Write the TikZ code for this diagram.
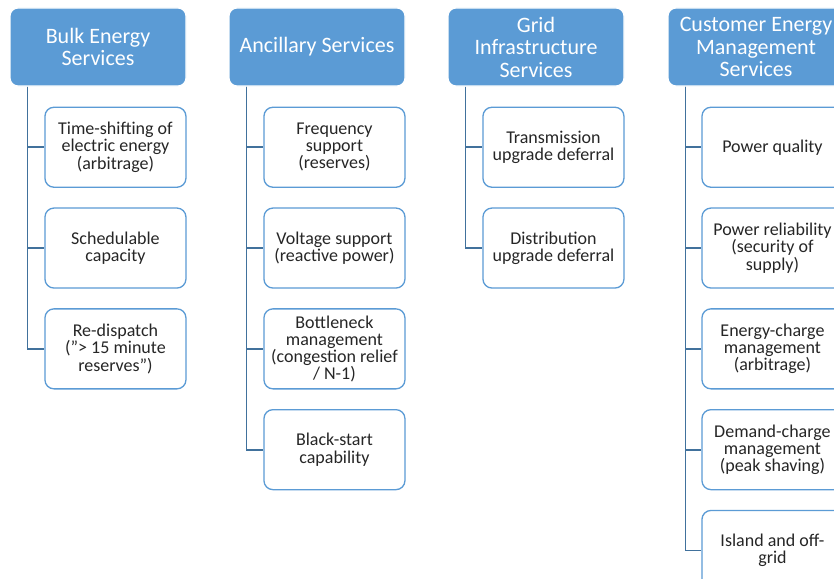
\documentclass[tikz,border=0pt]{standalone}
\usepackage{fontspec}
\setmainfont{Carlito}
\usepackage{xcolor}
\usepackage{tikz}
\usetikzlibrary{positioning}
\definecolor{hdrblue}{HTML}{5B9BD5}
\definecolor{linkblue}{HTML}{41719C}
\begin{document}
\begin{tikzpicture}[x=1pt,y=-1pt,
  header/.style={rectangle,rounded corners=8pt,fill=hdrblue,draw=white,line width=1.2pt,
    text=white,minimum width=176pt,minimum height=78pt,align=center,inner sep=2pt,
    font=\fontsize{22}{22.5}\selectfont},
  item/.style={rectangle,rounded corners=9pt,fill=white,draw=hdrblue,line width=1.3pt,
    text=black!85,minimum width=141pt,minimum height=80pt,align=center,inner sep=2pt,
    font=\fontsize{18}{17.2}\selectfont},
  link/.style={draw=linkblue,line width=1.8pt}]
\useasboundingbox (0,0) rectangle (834,578);
\clip (0,0) rectangle (834,578);
\fill[white] (0,0) rectangle (834,578);

% column headers
\node[header] (bulk) at (98,47) {Bulk Energy\\Services};
\node[header] (anc) at (317,47) {Ancillary Services};
\node[header] (grid) at (536,47) {Grid\\Infrastructure\\Services};
\node[header] (cust) at (756,47) {Customer Energy\\Management\\Services};

% bulk energy
\node[item,anchor=north east] (b1) at ([yshift=-20pt]bulk.south east) {Time-shifting of\\electric energy\\(arbitrage)};
\node[item,below=19.5pt of b1] (b2) {Schedulable\\capacity};
\node[item,below=19.5pt of b2] (b3) {Re-dispatch\\(''> 15 minute\\reserves'')};

% ancillary
\node[item,anchor=north east] (a1) at ([yshift=-20pt]anc.south east) {Frequency\\support\\(reserves)};
\node[item,below=19.5pt of a1] (a2) {Voltage support\\(reactive power)};
\node[item,below=19.5pt of a2] (a3) {Bottleneck\\management\\(congestion relief\\/ N-1)};
\node[item,below=19.5pt of a3] (a4) {Black-start\\capability};

% grid infrastructure
\node[item,anchor=north east] (g1) at ([yshift=-20pt]grid.south east) {Transmission\\upgrade deferral};
\node[item,below=19.5pt of g1] (g2) {Distribution\\upgrade deferral};

% customer energy management
\node[item,anchor=north east] (c1) at ([xshift=-1pt,yshift=-20pt]cust.south east) {Power quality};
\node[item,below=19.5pt of c1] (c2) {Power reliability\\(security of\\supply)};
\node[item,below=19.5pt of c2] (c3) {Energy-charge\\management\\(arbitrage)};
\node[item,below=19.5pt of c3] (c4) {Demand-charge\\management\\(peak shaving)};
\node[item,below=19.5pt of c4] (c5) {Island and off-\\grid};

% connectors
\foreach \c in {b1,b2,b3}
  \draw[link] ([xshift=18pt]bulk.south west) |- (\c.west);
\foreach \c in {a1,a2,a3,a4}
  \draw[link] ([xshift=18pt]anc.south west) |- (\c.west);
\foreach \c in {g1,g2}
  \draw[link] ([xshift=18pt]grid.south west) |- (\c.west);
\foreach \c in {c1,c2,c3,c4,c5}
  \draw[link] ([xshift=18pt]cust.south west) |- (\c.west);
\end{tikzpicture}
\end{document}
